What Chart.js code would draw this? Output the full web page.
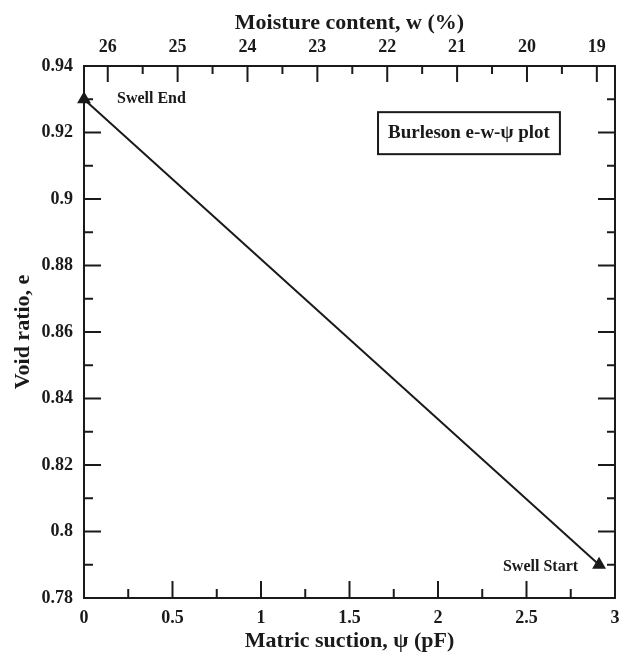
<!DOCTYPE html>
<html>
<head>
<meta charset="utf-8">
<script src="https://cdn.jsdelivr.net/npm/chart.js@4"></script>
<style>
  body { margin: 0; background: #fff; }
  #wrap { width: 623px; height: 655px; position: relative; }
</style>
</head>
<body>
<div id="wrap"><canvas id="chart"></canvas></div>
<script>
// data
const suction = [0, 2.91];
const voidRatio = [0.93, 0.79];
const pointNames = ['Swell End', 'Swell Start'];

const suctionTicks = [0, 0.5, 1, 1.5, 2, 2.5, 3];
const suctionMinor = [0.25, 0.75, 1.25, 1.75, 2.25, 2.75];
const voidTicks = [0.78, 0.8, 0.82, 0.84, 0.86, 0.88, 0.9, 0.92, 0.94];
const voidMinor = [0.79, 0.81, 0.83, 0.85, 0.87, 0.89, 0.91, 0.93];
const moistureTicks = [26, 25, 24, 23, 22, 21, 20, 19];
const moistureMinor = [25.5, 24.5, 23.5, 22.5, 21.5, 20.5, 19.5];

const ink = '#1a1a1a';
const serif = '"Liberation Serif", "Times New Roman", serif';
const tickFont = { family: serif, size: 18, weight: 'bold' };
const titleFont = { family: serif, size: 22, weight: 'bold' };

// ticks pointing into the plot, like the original
const innerTicks = {
    id: 'innerTicks',
    afterDatasetsDraw(chart) {
        const ctx = chart.ctx;
        const a = chart.chartArea;
        const s = chart.scales;
        ctx.save();
        ctx.strokeStyle = ink;
        ctx.lineWidth = 2;
        const vert = (scale, vals, len, fromTop) => vals.forEach(v => {
            const px = scale.getPixelForValue(v);
            ctx.beginPath();
            if (fromTop) { ctx.moveTo(px, a.top); ctx.lineTo(px, a.top + len); }
            else { ctx.moveTo(px, a.bottom); ctx.lineTo(px, a.bottom - len); }
            ctx.stroke();
        });
        const horiz = (scale, vals, len, fromLeft) => vals.forEach(v => {
            const py = scale.getPixelForValue(v);
            ctx.beginPath();
            if (fromLeft) { ctx.moveTo(a.left, py); ctx.lineTo(a.left + len, py); }
            else { ctx.moveTo(a.right, py); ctx.lineTo(a.right - len, py); }
            ctx.stroke();
        });
        vert(s.x, suctionTicks, 17, false);
        vert(s.x, suctionMinor, 9, false);
        vert(s.x2, moistureTicks, 16, true);
        vert(s.x2, moistureMinor, 8, true);
        horiz(s.y, voidTicks, 17, true);
        horiz(s.y, voidMinor, 9, true);
        horiz(s.y2, voidTicks, 17, false);
        horiz(s.y2, voidMinor, 8, false);
        ctx.restore();
    }
};

// point labels and the framed note
const notes = {
    id: 'notes',
    afterDatasetsDraw(chart) {
        const ctx = chart.ctx;
        const x = chart.scales.x, y = chart.scales.y;
        ctx.save();
        ctx.fillStyle = ink;
        ctx.textBaseline = 'middle';
        ctx.font = 'bold 16px ' + serif;
        ctx.textAlign = 'left';
        ctx.fillText(pointNames[0], x.getPixelForValue(suction[0]) + 33, y.getPixelForValue(voidRatio[0]));
        ctx.textAlign = 'right';
        ctx.fillText(pointNames[1], x.getPixelForValue(suction[1]) - 21, y.getPixelForValue(voidRatio[1]) + 2);

        const cx = x.getPixelForValue(2.175), cy = y.getPixelForValue(0.9198);
        ctx.font = 'bold 19px ' + serif;
        ctx.textAlign = 'center';
        const label = 'Burleson e-w-\u03C8 plot';
        const w = ctx.measureText(label).width + 20;
        ctx.strokeStyle = ink;
        ctx.lineWidth = 2;
        ctx.strokeRect(cx - w / 2, cy - 21, w, 42);
        ctx.fillText(label, cx, cy);
        ctx.restore();
    }
};

const noSidePad = s => { s.paddingLeft = 0; s.paddingRight = 0; };

new Chart(document.getElementById('chart'), {
    type: 'scatter',
    data: {
        datasets: [{
            data: suction.map((s, i) => ({ x: s, y: voidRatio[i] })),
            showLine: true,
            borderColor: ink,
            borderWidth: 2,
            pointStyle: 'triangle',
            pointRadius: 6,
            pointBackgroundColor: ink,
            pointBorderColor: ink,
            clip: false
        }]
    },
    options: {
        responsive: true,
        maintainAspectRatio: false,
        animation: false,
        layout: { padding: 0 },
        plugins: { legend: { display: false }, tooltip: { enabled: false } },
        scales: {
            x: {
                type: 'linear', position: 'bottom', min: 0, max: 3,
                afterBuildTicks: s => { s.ticks = suctionTicks.map(v => ({ value: v })); },
                afterFit: s => { s.height = 57; noSidePad(s); },
                grid: { display: false, drawTicks: false },
                border: { color: ink, width: 2 },
                ticks: { color: ink, font: tickFont, padding: 10, maxRotation: 0, autoSkip: false, callback: v => String(v) },
                title: { display: true, text: 'Matric suction, \u03C8 (pF)', color: ink, font: titleFont, padding: 0 }
            },
            x2: {
                type: 'linear', position: 'top', min: 18.74, max: 26.34, reverse: true,
                afterBuildTicks: s => { s.ticks = moistureTicks.map(v => ({ value: v })); },
                afterFit: s => { s.height = 66; noSidePad(s); },
                grid: { display: false, drawTicks: false },
                border: { color: ink, width: 2 },
                ticks: { color: ink, font: tickFont, padding: 8, maxRotation: 0, autoSkip: false, callback: v => String(v) },
                title: { display: true, text: 'Moisture content, w (%)', color: ink, font: titleFont, padding: { top: 10, bottom: 0 } }
            },
            y: {
                type: 'linear', position: 'left', min: 0.78, max: 0.94,
                afterBuildTicks: s => { s.ticks = voidTicks.map(v => ({ value: v })); },
                afterFit: s => { s.width = 84; },
                grid: { display: false, drawTicks: false },
                border: { color: ink, width: 2 },
                ticks: { color: ink, font: tickFont, padding: 11, autoSkip: false, callback: v => String(+v.toFixed(2)) },
                title: { display: true, text: 'Void ratio, e', color: ink, font: titleFont, padding: { top: 10, bottom: 0 } }
            },
            y2: {
                type: 'linear', position: 'right', min: 0.78, max: 0.94,
                afterFit: s => { s.width = 7; },
                grid: { display: false, drawTicks: false },
                border: { color: ink, width: 2 },
                ticks: { display: false }
            }
        }
    },
    plugins: [innerTicks, notes]
});
</script>
</body>
</html>
